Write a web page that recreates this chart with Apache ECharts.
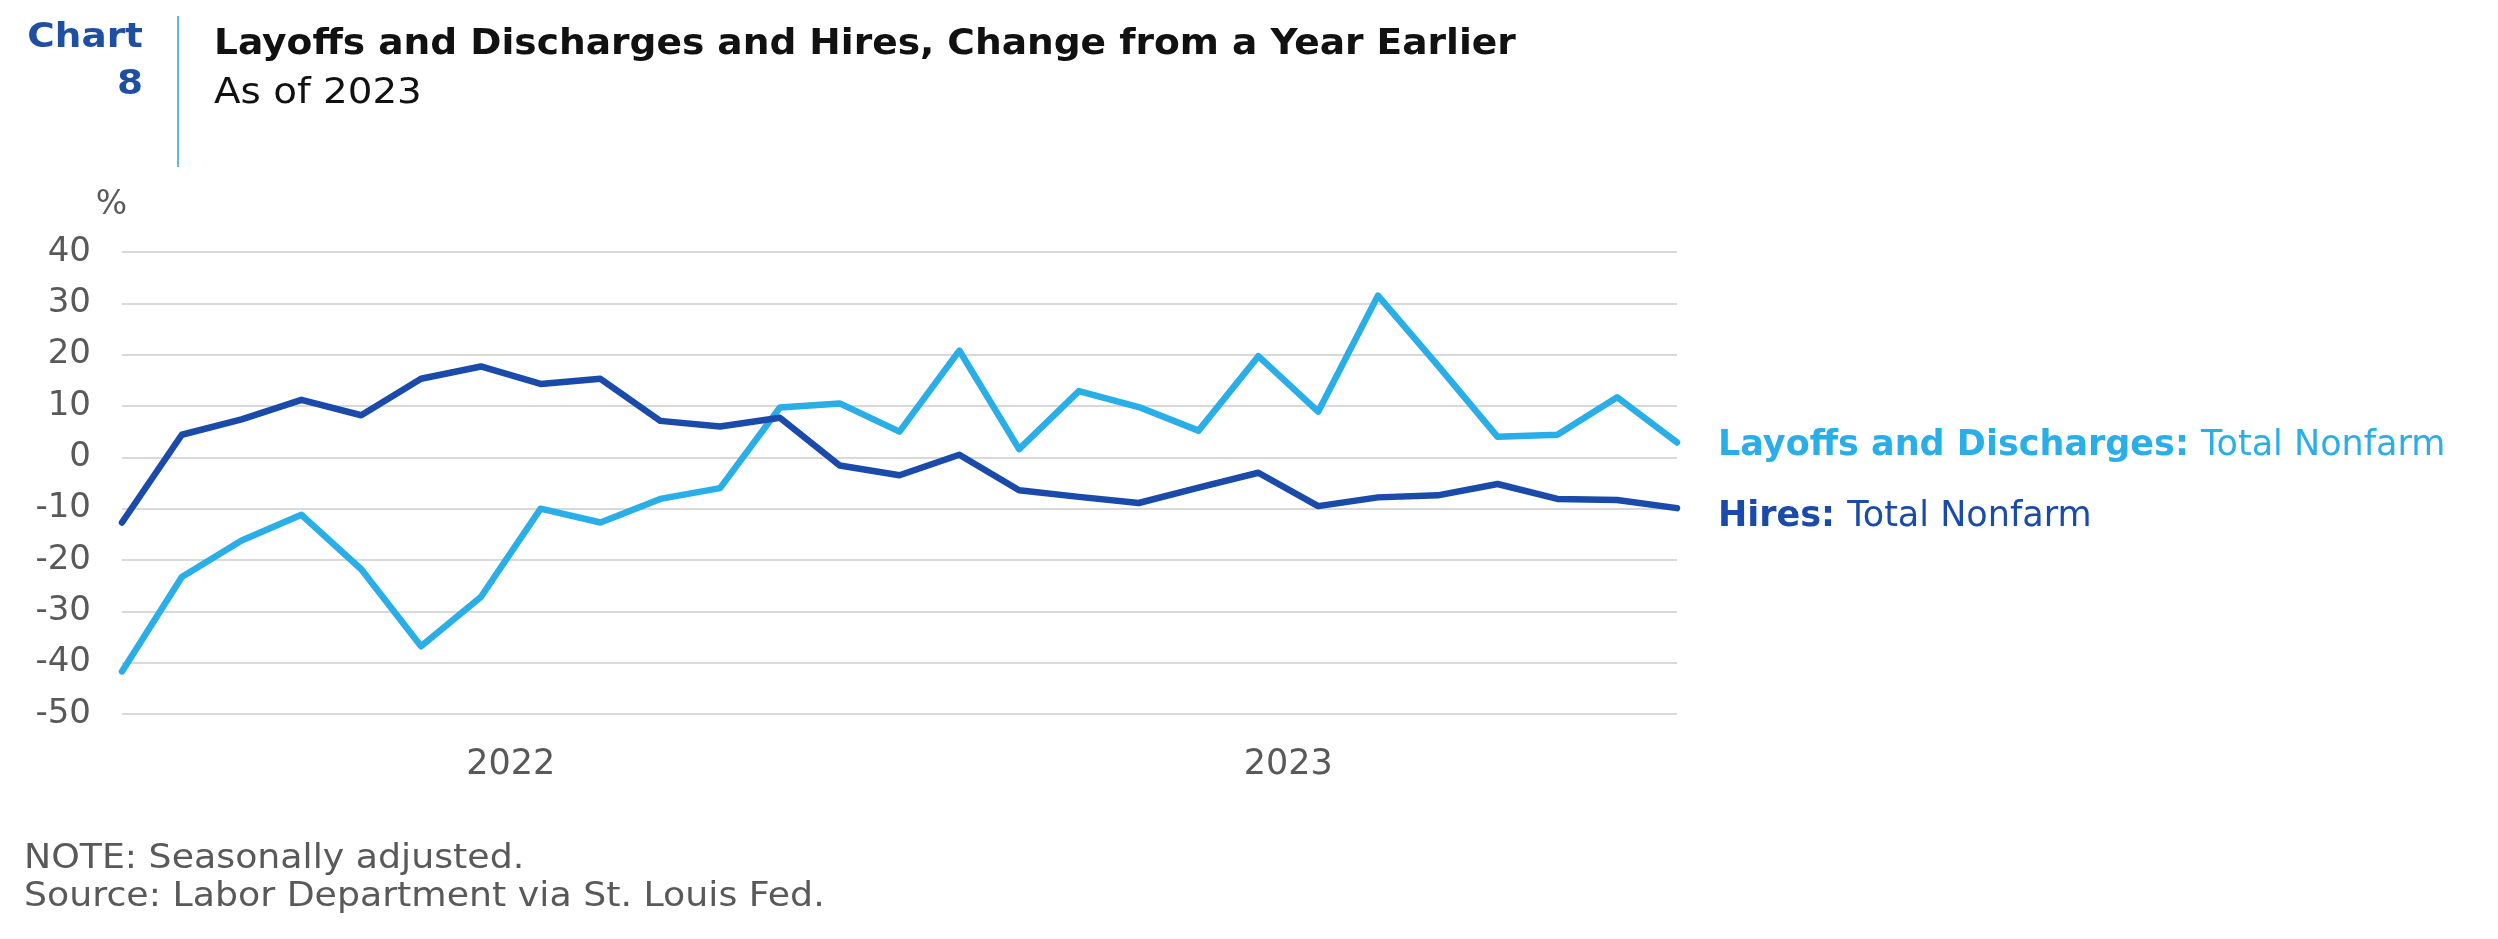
<!DOCTYPE html>
<html>
<head>
<meta charset="utf-8">
<script src="https://cdn.jsdelivr.net/npm/echarts@6/dist/echarts.min.js"></script>
<style>
  html, body { margin: 0; padding: 0; background: #ffffff; }
  #chart { width: 2498px; height: 939px; }
</style>
</head>
<body>
<div id="chart"></div>
<script>
// Monthly observations (27 months)
const months = [
  '2021-07','2021-08','2021-09','2021-10','2021-11','2021-12',
  '2022-01','2022-02','2022-03','2022-04','2022-05','2022-06',
  '2022-07','2022-08','2022-09','2022-10','2022-11','2022-12',
  '2023-01','2023-02','2023-03','2023-04','2023-05','2023-06',
  '2023-07','2023-08','2023-09'
];
const layoffs = [
  -41.7, -23.3, -16.2, -11.2, -21.8, -36.8, -27.2, -10.0, -12.7, -8.1, -6.0, 9.7, 10.5, 5.0,
  20.8, 1.6, 12.9, 9.8, 5.2, 19.7, 8.9, 31.5, 17.9, 4.0, 4.4, 11.7, 2.9
];
const hires = [
  -12.7, 4.4, 7.4, 11.2, 8.2, 15.3, 17.7, 14.3, 15.3, 7.1, 6.0, 7.7, -1.6, -3.5,
  0.5, -6.4, -7.7, -8.9, -5.9, -3.0, -9.5, -7.8, -7.4, -5.2, -8.1, -8.3, -9.9
];
const yearLabels = ['2022', '2023'];
const yearLabelPositions = [6.5, 19.5];
const yTicks = { min: -50, max: 40, interval: 10 };
const seriesNames = ['Layoffs and Discharges', 'Hires'];
const seriesSub = 'Total Nonfarm';

const LIGHT = '#2aaee8';
const DARK = '#1a4aaa';
const GRAY = '#595959';
const FONT = '"DejaVu Sans", "Open Sans", sans-serif';

const chart = echarts.init(document.getElementById('chart'), null, { renderer: 'canvas' });

const toPairs = arr => arr.map((v, i) => [i, v]);

chart.setOption({
  backgroundColor: '#ffffff',
  animation: false,
  textStyle: { fontFamily: FONT },
  grid: { left: 122, right: 821, top: 252, bottom: 225, containLabel: false },
  xAxis: {
    type: 'value',
    min: 0,
    max: months.length - 1,
    axisLine: { show: false },
    axisTick: { show: false },
    splitLine: { show: false },
    axisLabel: {
      customValues: yearLabelPositions,
      formatter: v => {
        const k = yearLabelPositions.indexOf(v);
        return k >= 0 ? yearLabels[k] : '';
      },
      color: GRAY,
      fontSize: 35,
      fontFamily: FONT,
      margin: 33
    }
  },
  yAxis: {
    type: 'value',
    min: yTicks.min,
    max: yTicks.max,
    interval: yTicks.interval,
    axisLine: { show: false },
    axisTick: { show: false },
    axisLabel: { color: GRAY, fontSize: 34, fontFamily: FONT, margin: 31 },
    splitLine: { lineStyle: { color: '#d9d9d9', width: 2 } }
  },
  legend: {
    orient: 'vertical',
    left: 1708,
    top: 423,
    itemWidth: 0,
    itemHeight: 0,
    itemGap: 36,
    icon: 'rect',
    data: seriesNames,
    formatter: name => name === seriesNames[0]
      ? '{bl|' + name + ': }{rl|' + seriesSub + '}'
      : '{bh|' + name + ': }{rh|' + seriesSub + '}',
    textStyle: {
      fontFamily: FONT,
      rich: {
        bl: { color: LIGHT, fontWeight: 'bold', fontSize: 35, lineHeight: 40, fontFamily: FONT },
        rl: { color: LIGHT, fontWeight: 'normal', fontSize: 35, lineHeight: 40, fontFamily: FONT },
        bh: { color: DARK, fontWeight: 'bold', fontSize: 35, lineHeight: 40, fontFamily: FONT },
        rh: { color: DARK, fontWeight: 'normal', fontSize: 35, lineHeight: 40, fontFamily: FONT }
      }
    }
  },
  series: [
    {
      name: seriesNames[0],
      type: 'line',
      data: toPairs(layoffs),
      symbol: 'none',
      lineStyle: { color: LIGHT, width: 6.5, cap: 'round', join: 'round' },
      itemStyle: { color: LIGHT },
      z: 2
    },
    {
      name: seriesNames[1],
      type: 'line',
      data: toPairs(hires),
      symbol: 'none',
      lineStyle: { color: DARK, width: 6.5, cap: 'round', join: 'round' },
      itemStyle: { color: DARK },
      z: 3
    }
  ],
  graphic: [
    { type: 'text', x: 143, y: 38, scaleX: 1.1, style: { text: 'Chart', fill: '#1f4fa3', font: 'bold 34px ' + FONT, textAlign: 'right', textVerticalAlign: 'middle' } },
    { type: 'text', x: 143, y: 85, scaleX: 1.1, style: { text: '8', fill: '#1f4fa3', font: 'bold 34px ' + FONT, textAlign: 'right', textVerticalAlign: 'middle' } },
    { type: 'line', shape: { x1: 178, y1: 16, x2: 178, y2: 167 }, style: { stroke: '#5bb8e8', lineWidth: 2 } },
    { type: 'text', x: 214, y: 45, scaleX: 1.073, style: { text: 'Layoffs and Discharges and Hires, Change from a Year Earlier', fill: '#111111', font: 'bold 35px ' + FONT, textAlign: 'left', textVerticalAlign: 'middle' } },
    { type: 'text', x: 214, y: 94, scaleX: 1.11, style: { text: 'As of 2023', fill: '#111111', font: '35px ' + FONT, textAlign: 'left', textVerticalAlign: 'middle' } },
    { type: 'text', x: 127, y: 205, style: { text: '%', fill: GRAY, font: '33px ' + FONT, textAlign: 'right', textVerticalAlign: 'middle' } },
    { type: 'text', x: 24, y: 859, scaleX: 1.1, style: { text: 'NOTE: Seasonally adjusted.', fill: GRAY, font: '33px ' + FONT, textAlign: 'left', textVerticalAlign: 'middle' } },
    { type: 'text', x: 24, y: 897, scaleX: 1.1, style: { text: 'Source: Labor Department via St. Louis Fed.', fill: GRAY, font: '33px ' + FONT, textAlign: 'left', textVerticalAlign: 'middle' } }
  ]
});
</script>
</body>
</html>
